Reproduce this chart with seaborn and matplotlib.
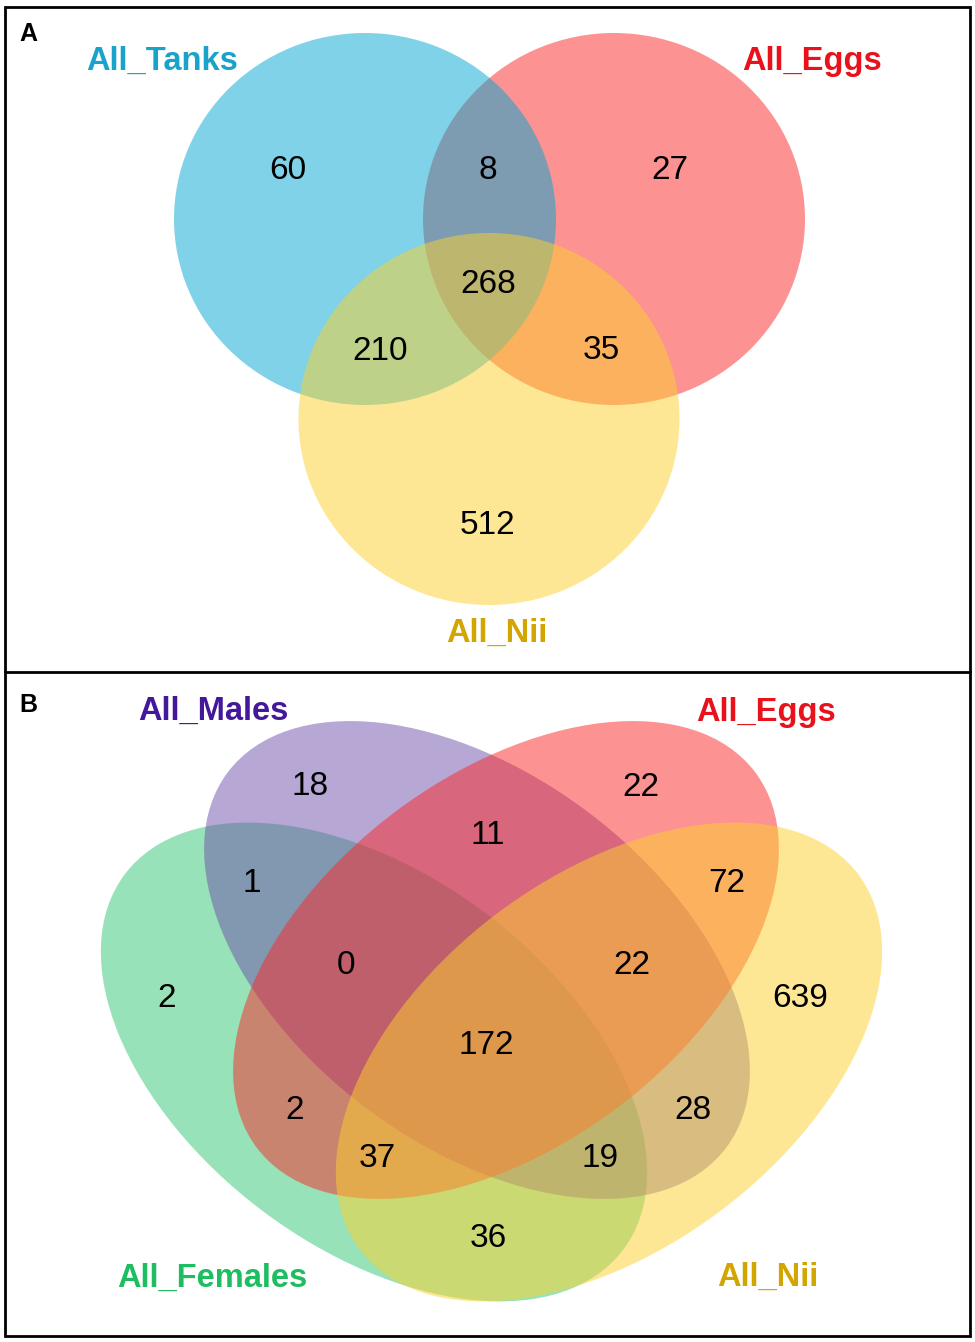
import matplotlib
matplotlib.use("Agg")
import matplotlib.pyplot as plt
from matplotlib.patches import Ellipse, Rectangle
import seaborn as sns

# ---------------- data ----------------
panel_tags = ["A", "B"]

# Panel A: three-set Venn
sets_a = ["All_Tanks", "All_Eggs", "All_Nii"]
# regions: Tanks only, Tanks&Eggs, Eggs only, Tanks&Nii, all three, Eggs&Nii, Nii only
region_counts_a = [60, 8, 27, 210, 268, 35, 512]

# Panel B: four-set Venn
sets_b = ["All_Females", "All_Males", "All_Eggs", "All_Nii"]
region_counts_b = [18, 22, 11, 1, 72, 0, 22, 2, 639, 172, 2, 28, 37, 19, 36]

# ---------------- styles / layout ----------------
sns.set_theme(style="white")
plt.rcParams["font.family"] = ["Liberation Sans", "DejaVu Sans"]

fill_a = sns.color_palette(["#00A7D1", "#FB2727", "#FDD12D"])
label_col_a = ["#19A3CB", "#E8121C", "#D3A500"]
draw_order_a = [1, 0, 2]
shape_a = [(365, 219, 382, 372, 0), (614, 219, 382, 372, 0), (489, 419, 381, 372, 0)]
label_pos_a = [(162, 70), (812, 70), (497, 642)]
region_pos_a = [(288, 167), (488, 167), (670, 167), (380, 348),
                (488, 281), (601, 347), (487, 522)]

fill_b = sns.color_palette(["#31C773", "#6E50AA", "#FB2727", "#FDD12D"])
label_col_b = ["#1FBD62", "#44189A", "#E8121C", "#D3A500"]
draw_order_b = [0, 1, 2, 3]
shape_b = [(374, 1062, 624, 372, 37), (477, 960, 624, 370, 37),
           (506, 960, 624, 370, -37), (609, 1062, 624, 372, -37)]
label_pos_b = [(212, 1287), (213, 720), (766, 721), (768, 1286)]
region_pos_b = [(310, 783), (641, 784), (488, 832), (252, 880), (727, 880),
                (346, 962), (632, 962), (167, 995), (800, 995), (486, 1042),
                (295, 1107), (693, 1107), (377, 1155), (600, 1155), (488, 1235)]

W, H = 975, 1342
fig = plt.figure(figsize=(W / 100, H / 100), dpi=100)
ax = fig.add_axes([0, 0, 1, 1])
ax.set_xlim(0, W)
ax.set_ylim(H, 0)
ax.axis("off")

NUM_FS = 24
LAB_FS = 23.5
NUM_OFF = 12


def draw_venn(shapes, fills, order, names, name_cols, name_pos, counts, count_pos):
    for i in order:
        cx, cy, w, h, ang = shapes[i]
        ax.add_patch(Ellipse((cx, cy), w, h, angle=ang, facecolor=fills[i],
                             alpha=0.5, edgecolor="none", zorder=2 + order.index(i)))
    for name, col, (x, y) in zip(names, name_cols, name_pos):
        ax.text(x, y, name, color=col, fontsize=LAB_FS, fontweight="bold",
                ha="center", va="baseline", zorder=10)
    for c, (x, y) in zip(counts, count_pos):
        ax.text(x, y + NUM_OFF, str(c), color="black", fontsize=NUM_FS,
                ha="center", va="baseline", zorder=10)


draw_venn(shape_a, fill_a, draw_order_a, sets_a, label_col_a, label_pos_a,
          region_counts_a, region_pos_a)
draw_venn(shape_b, fill_b, draw_order_b, sets_b, label_col_b, label_pos_b,
          region_counts_b, region_pos_b)

# panel tags
for tag, (x, y) in zip(panel_tags, [(28, 41), (28, 712)]):
    ax.text(x, y, tag, fontsize=18, fontweight="bold", color="black",
            ha="center", va="baseline", zorder=10)

# frames
ax.add_patch(Rectangle((5, 7), 965, 1329, fill=False, edgecolor="black",
                       linewidth=2, zorder=20))
ax.plot([5, 970], [672, 672], color="black", linewidth=2, zorder=20)

fig.savefig("out.png", dpi=100)
